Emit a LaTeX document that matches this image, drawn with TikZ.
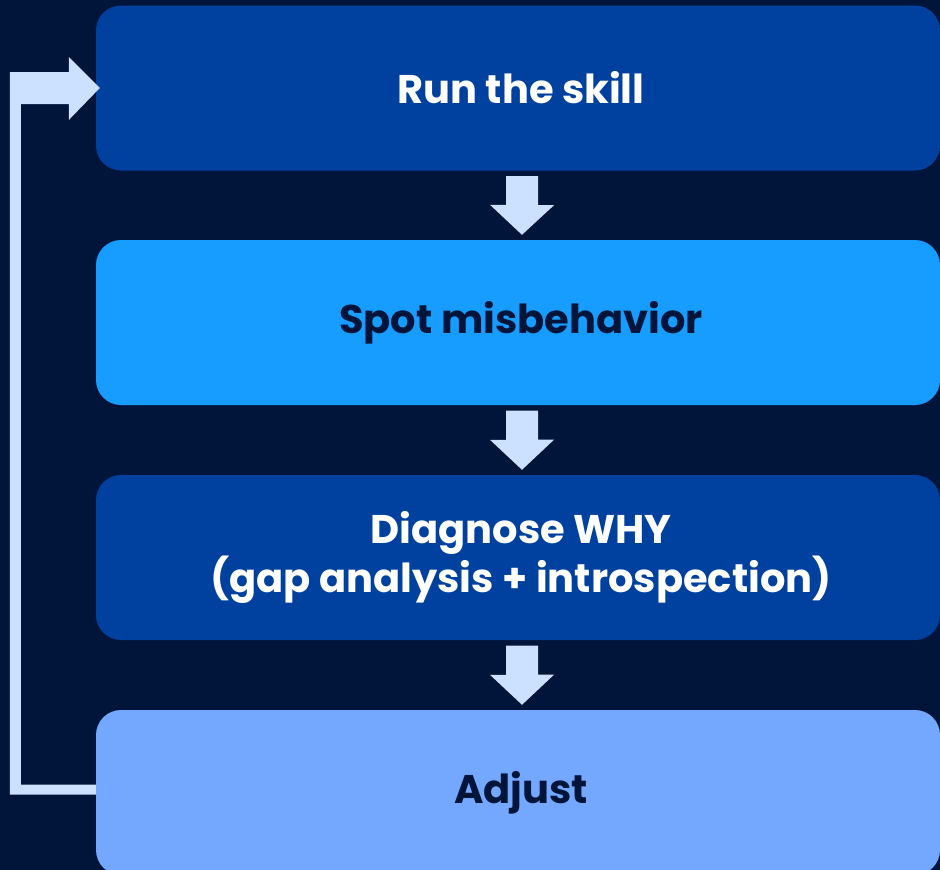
\documentclass[tikz,border=0pt]{standalone}
\usepackage{fontspec}
\setmainfont{Poppins}
\usetikzlibrary{calc}
\definecolor{bgnavy}{HTML}{001539}
\definecolor{boxdark}{HTML}{0041A0}
\definecolor{boxcyan}{HTML}{179CFF}
\definecolor{boxlight}{HTML}{74A8FF}
\definecolor{arrowfill}{HTML}{CCE0FF}
\tikzset{
  stepbox/.style={rectangle, rounded corners=25pt, minimum width=844pt, minimum height=165pt,
    inner sep=0pt, align=center, font=\fontsize{40}{47}\selectfont\bfseries},
  darkbox/.style={stepbox, fill=boxdark, text=white},
  cyanbox/.style={stepbox, fill=boxcyan, text=bgnavy},
  lightbox/.style={stepbox, fill=boxlight, text=bgnavy},
  blockarrow/.style={fill=arrowfill, draw=none},
}
\newcommand{\steptext}[1]{\raisebox{2pt}{\hspace{6pt}#1}}
\begin{document}
\begin{tikzpicture}[x=1pt,y=-1pt]
\useasboundingbox (0,0) rectangle (940,870);
\clip (0,0) rectangle (940,870);
\fill[bgnavy] (0,0) rectangle (940,870);
\node[darkbox]  (b1) at (518,88)    {\steptext{Run the skill}};
\node[cyanbox]  (b2) at (518,322.5) {\steptext{Spot misbehavior}};
\node[darkbox]  (b3) at (518,557.5) {\hspace{6pt}Diagnose WHY\\\hspace{6pt}(gap analysis + introspection)};
\node[lightbox] (b4) at (518,792.5) {\steptext{Adjust}};
% down arrows
\foreach \a/\b in {b1/b2,b2/b3,b3/b4}{
  \fill[blockarrow] ($(\a.south)+(-12,5.5)$) -- ++(32,0) -- ++(0,29) -- ++(16,0)
     -- ($(\b.north)+(4,-5)$) -- ++(-32,-30) -- ++(16,0) -- cycle;
}
% loop arrow
\coordinate (lb) at ($(b4.west)+(0,-3)$);
\coordinate (lt) at (b1.west);
\fill[blockarrow] ($(lb)+(0,5)$) -| ($(lt)+(-86,-16)$) -- ++(59,0) -- ++(0,-15)
   -- ($(lt)+(4,0)$) -- ++(-31,32) -- ++(0,-16) -- ++(-48,0) |- ($(lb)+(0,-5)$) -- cycle;
\end{tikzpicture}
\end{document}
